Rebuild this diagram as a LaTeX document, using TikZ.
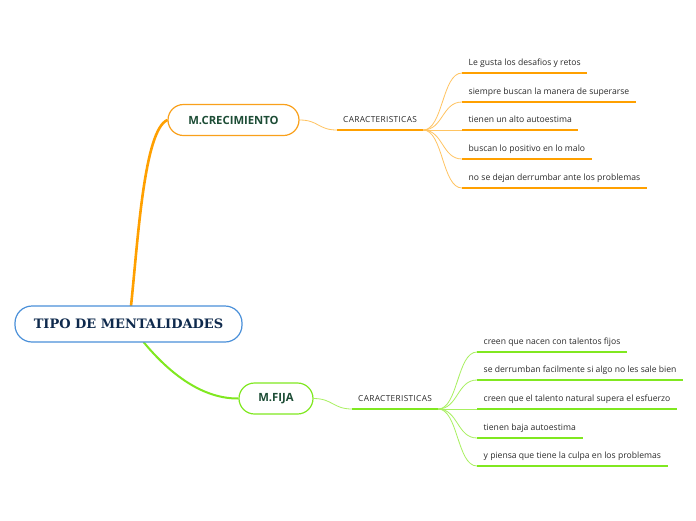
\documentclass[tikz,border=0pt]{standalone}
\usepackage{fontspec}
\setmainfont{Open Sans}
\newfontfamily\slabfont{DejaVu Serif}
\newfontfamily\catfont[LetterSpace=4]{Open Sans}
\definecolor{orangeline}{HTML}{FFA000}
\definecolor{orangethin}{HTML}{FFC462}
\definecolor{orangebox}{HTML}{F9A01B}
\definecolor{greenline}{HTML}{80E820}
\definecolor{greenthin}{HTML}{A8F060}
\definecolor{rootblue}{HTML}{4A90D9}
\definecolor{rootnavy}{HTML}{0F2A4D}
\definecolor{boxtext}{HTML}{1D4D36}
\definecolor{leaftext}{HTML}{2B2B2B}
\tikzset{
  rootbox/.style={draw=rootblue, line width=1.2pt, rounded corners=17pt, fill=white,
    minimum width=227pt, minimum height=36pt, inner sep=0pt, text=rootnavy,
    font=\slabfont\bfseries\fontsize{13}{15}\selectfont},
  subbox/.style={line width=1.2pt, rounded corners=15.5pt, fill=white,
    minimum height=31pt, inner sep=0pt, text=boxtext,
    font=\bfseries\fontsize{11.3}{13}\selectfont},
  catnode/.style={anchor=south west, inner xsep=6pt, inner ysep=5pt, text=leaftext,
    text height=6pt, text depth=2pt, font=\catfont\fontsize{8.3}{10}\selectfont},
  leafnode/.style={anchor=south west, inner xsep=6.5pt, inner ysep=5pt, text=leaftext,
    text height=6pt, text depth=2pt, font=\fontsize{8.6}{10}\selectfont},
  ulorange/.style={draw=orangeline, line width=2pt},
  ulgreen/.style={draw=greenline, line width=2pt},
  twigorange/.style={draw=orangethin, line width=0.8pt},
  twiggreen/.style={draw=greenthin, line width=0.8pt},
}
\begin{document}
\begin{tikzpicture}[x=1pt,y=-1pt]
\useasboundingbox[fill=white] (0,0) rectangle (696,520);

\coordinate (rtop) at (131,306);
\coordinate (rbot) at (143.5,342);

\node[subbox, draw=orangebox, minimum width=131pt] (crec) at (233.5,120) {M.CRECIMIENTO};
\node[subbox, draw=greenline, minimum width=74pt] (fija) at (276,398.5) {M.FIJA};

\draw[draw=orangeline, line width=2.6pt] (rtop) .. controls (138,240) and (144,130) .. (crec.west);
\draw[draw=greenline, line width=2pt] (rbot) .. controls (160,362) and (195,399) .. (fija.west);

\node[rootbox] (root) at (128.5,324) {TIPO DE MENTALIDADES};

% upper branch
\node[catnode] (c1) at (337,130) {CARACTERISTICAS};
\draw[ulorange] (c1.south west) -- (c1.south east);
\draw[twigorange] (crec.east) .. controls +(19,0) and +(-19,0) .. (c1.south west);

\node[leafnode] (a1) at (462,73) {Le gusta los desafios y retos};
\node[leafnode] (a2) at (462,102) {siempre buscan la manera de superarse};
\node[leafnode] (a3) at (462,130) {tienen un alto autoestima};
\node[leafnode] (a4) at (462,159) {buscan lo positivo en lo malo};
\node[leafnode] (a5) at (462,188) {no se dejan derrumbar ante los problemas};
\foreach \n in {a1,a2,a3,a4,a5}{
  \draw[ulorange] (\n.south west) -- (\n.south east);
  \draw[twigorange] (c1.south east) .. controls +(20,0) and +(-20,0) .. (\n.south west);
}

% lower branch
\node[catnode] (c2) at (352,409) {CARACTERISTICAS};
\draw[ulgreen] (c2.south west) -- (c2.south east);
\draw[twiggreen] (fija.east) .. controls +(19,0) and +(-19,0) .. (c2.south west);

\node[leafnode] (b1) at (477,352) {creen que nacen con talentos fijos};
\node[leafnode] (b2) at (477,380) {se derrumban facilmente si algo no les sale bien};
\node[leafnode] (b3) at (477,409) {creen que el talento natural supera el esfuerzo};
\node[leafnode] (b4) at (477,438) {tienen baja autoestima};
\node[leafnode] (b5) at (477,466) {y piensa que tiene la culpa en los problemas};
\foreach \n in {b1,b2,b3,b4,b5}{
  \draw[ulgreen] (\n.south west) -- (\n.south east);
  \draw[twiggreen] (c2.south east) .. controls +(20,0) and +(-20,0) .. (\n.south west);
}
\end{tikzpicture}
\end{document}
